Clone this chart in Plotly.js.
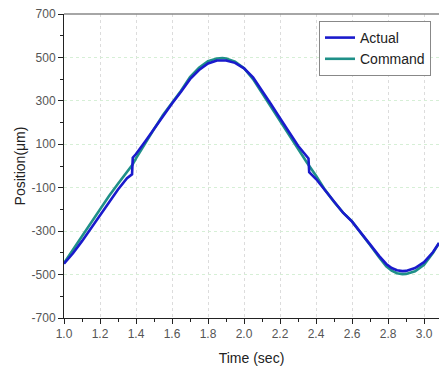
<!DOCTYPE html>
<html>
<head>
<meta charset="utf-8">
<script src="https://cdn.plot.ly/plotly-3.0.1.min.js"></script>
<style>html,body{margin:0;padding:0;background:#fff;}#chart{width:439px;height:370px;}</style>
</head>
<body>
<div id="chart"></div>
<script>
// Command trajectory (time in sec, position in µm)
const cmdTime = [1.00,1.05,1.10,1.15,1.20,1.25,1.30,1.35,1.38,1.40,1.45,1.50,1.55,1.60,1.65,1.70,1.75,1.80,1.85,1.88,1.90,1.95,2.00,2.05,2.10,2.15,2.20,2.25,2.30,2.35,2.40,2.45,2.50,2.55,2.60,2.65,2.70,2.75,2.79,2.82,2.85,2.88,2.90,2.95,3.00,3.05,3.083];
const cmdPos  = [-447,-385,-322,-258,-196,-138,-82,-25,5,35,105,170,235,292,347,410,452,483,495,497,495,480,450,400,335,270,205,140,75,15,-45,-110,-165,-215,-255,-308,-364,-420,-462,-482,-494,-498,-497,-485,-455,-400,-355];
// Actual measured trajectory
const actTime = [1.00,1.05,1.10,1.15,1.20,1.25,1.30,1.35,1.378,1.382,1.40,1.45,1.50,1.55,1.60,1.65,1.70,1.75,1.80,1.85,1.88,1.90,1.95,2.00,2.05,2.10,2.15,2.20,2.25,2.30,2.358,2.362,2.40,2.45,2.50,2.55,2.60,2.65,2.70,2.75,2.79,2.82,2.85,2.88,2.90,2.95,3.00,3.05,3.083];
const actPos  = [-450,-402,-346,-286,-224,-164,-108,-56,-38,38,55,112,170,232,288,342,400,442,472,486,488,486,475,450,408,348,284,220,156,93,35,-28,-60,-112,-166,-215,-256,-306,-361,-414,-451,-470,-480,-484,-483,-470,-443,-396,-355];

const seriesNames = ['Actual','Command'];
const xTickVals = [1.0,1.2,1.4,1.6,1.8,2.0,2.2,2.4,2.6,2.8,3.0];
const xTickText = ['1.0','1.2','1.4','1.6','1.8','2.0','2.2','2.4','2.6','2.8','3.0'];
const yTickVals = [-700,-500,-300,-100,100,300,500,700];
const yTickText = ['-700','-500','-300','-100','100','300','500','700'];

const traces = [
  {x: cmdTime, y: cmdPos, name: seriesNames[1], mode: 'lines', legendrank: 2,
   line: {color: '#1f9088', width: 2.6}},
  {x: actTime, y: actPos, name: seriesNames[0], mode: 'lines', legendrank: 1,
   line: {color: '#1a1acc', width: 2.6}}
];

const font = 'Arial, "Liberation Sans", sans-serif';
const layout = {
  width: 439, height: 370,
  margin: {l: 64, r: 0, t: 14, b: 52},
  paper_bgcolor: '#fff', plot_bgcolor: '#fff',
  font: {family: font, size: 12, color: '#555'},
  showlegend: true,
  legend: {x: 0.68, y: 0.977, xanchor: 'left', yanchor: 'top',
    bgcolor: '#fff', bordercolor: '#888', borderwidth: 1,
    font: {family: font, size: 14, color: '#222'},
    tracegroupgap: 0, itemwidth: 30},
  xaxis: {
    range: [1.0, 3.083], tickmode: 'array', tickvals: xTickVals, ticktext: xTickText,
    showline: true, linecolor: '#222', linewidth: 1,
    ticks: 'outside', ticklen: 5, tickcolor: '#222',
    minor: {dtick: 0.1, tick0: 1.0, ticks: 'outside', ticklen: 3, tickcolor: '#222', showgrid: false},
    showgrid: true, gridcolor: '#dcdcdc', griddash: 'dot', gridwidth: 1,
    zeroline: false,
    tickfont: {family: font, size: 12, color: '#555'},
    title: {text: 'Time (sec)', font: {family: font, size: 14, color: '#222'}, standoff: 12}
  },
  yaxis: {
    range: [-700, 700], tickmode: 'array', tickvals: yTickVals, ticktext: yTickText,
    showline: true, linecolor: '#222', linewidth: 1,
    ticks: 'outside', ticklen: 5, tickcolor: '#222',
    minor: {dtick: 100, tick0: -700, ticks: 'outside', ticklen: 3, tickcolor: '#222', showgrid: false},
    showgrid: true, gridcolor: '#d6efd6', griddash: 'dot', gridwidth: 1,
    zeroline: false,
    tickfont: {family: font, size: 12, color: '#555'},
    title: {text: 'Position(μm)', font: {family: font, size: 14, color: '#222'}, standoff: 2}
  },
  shapes: [
    {type: 'line', xref: 'paper', yref: 'paper', x0: 0, x1: 1, y0: 1, y1: 1,
     line: {color: '#888', width: 1.5}}
  ]
};

Plotly.newPlot('chart', traces, layout, {displayModeBar: false, staticPlot: true});
</script>
</body>
</html>
